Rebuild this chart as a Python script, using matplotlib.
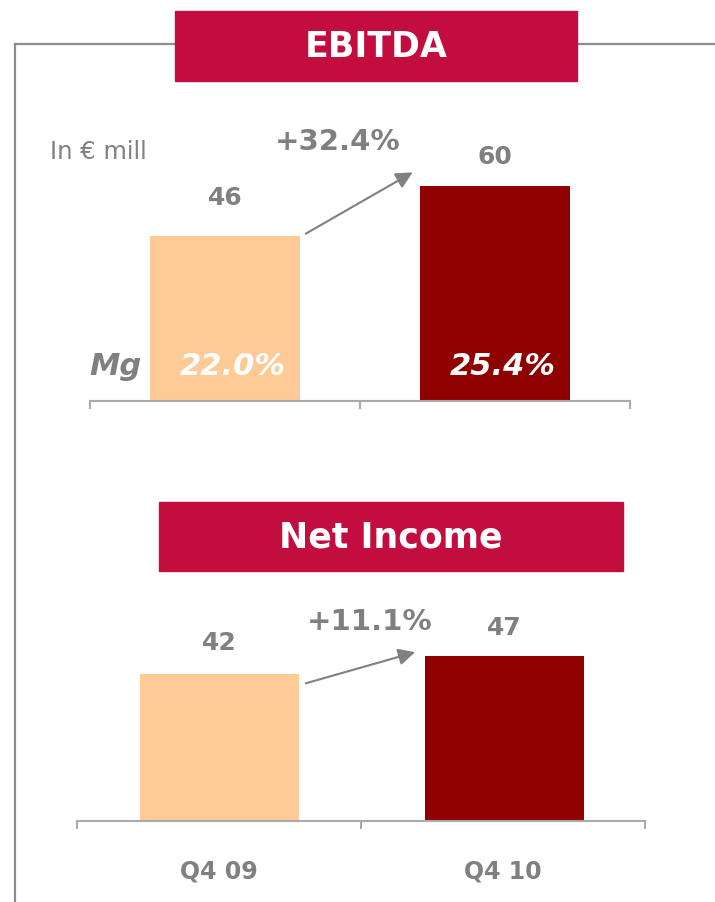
import matplotlib
matplotlib.use("Agg")
import matplotlib.pyplot as plt
from matplotlib.patches import Rectangle
from matplotlib.lines import Line2D

plt.rcParams['font.family'] = ['DejaVu Sans']

# data
periods = ['Q4 09', 'Q4 10']
ebitda = [46, 60]
ebitda_margin = ['22.0%', '25.4%']
ebitda_growth = '+32.4%'
net_income = [42, 47]
ni_growth = '+11.1%'

bar_colors = ['#FECB96', '#8F0000']
crimson = '#C20D3E'
gray = '#808080'
line_gray = '#8C8C8C'

W, H = 715, 903
fig = plt.figure(figsize=(W / 100, H / 100), dpi=100)


def px_box(x0, y0, x1, y1):
    # pixel box (top-left origin) -> figure fraction rect
    return [x0 / W, 1 - y1 / H, (x1 - x0) / W, (y1 - y0) / H]


# frame lines
fig.add_artist(Line2D([15 / W, 175 / W], [1 - 45 / H] * 2, color=line_gray, lw=1.6))
fig.add_artist(Line2D([577 / W, 1], [1 - 45 / H] * 2, color=line_gray, lw=1.6))
fig.add_artist(Line2D([15 / W] * 2, [1 - 45 / H, 0], color=line_gray, lw=1.6))

# title boxes
for (x0, y0, x1, y1), title in [((175, 12, 577, 82), 'EBITDA'),
                                ((159, 503, 623, 572), 'Net Income')]:
    fig.add_artist(Rectangle((x0 / W, 1 - y1 / H), (x1 - x0) / W, (y1 - y0) / H,
                             transform=fig.transFigure, color=crimson, zorder=3))
    fig.text((x0 + x1) / 2 / W, 1 - (y0 + y1) / 2 / H, title, color='white',
             fontsize=25, fontweight='bold', ha='center', va='center', zorder=4)

fig.text(50 / W, 1 - 152 / H, 'In € mill', color=gray, fontsize=17.5,
         ha='left', va='center')


def setup(ax):
    ax.set_xlim(0, 2)
    ax.set_ylim(0, 70)
    for s in ['top', 'right', 'left']:
        ax.spines[s].set_visible(False)
    ax.spines['bottom'].set_color('#AAAAAA')
    ax.spines['bottom'].set_linewidth(1.5)
    ax.set_yticks([])
    ax.set_xticks([0, 1, 2])
    ax.set_xticklabels([])
    ax.tick_params(axis='x', which='major', direction='out', length=6,
                   width=1.5, color='#AAAAAA')
    ax.patch.set_alpha(0)


# EBITDA chart: baseline at y=402 px, 60 -> 215 px
ax1 = fig.add_axes(px_box(90, 402 - 70 * 215 / 60, 630, 402))
setup(ax1)
ax1.bar([0.5, 1.5], ebitda, width=0.556, color=bar_colors)
for x, v, off in zip([0.5, 1.5], ebitda, [11, 8.5]):
    ax1.text(x, v + off, str(v), color=gray, fontsize=18, fontweight='bold',
             ha='center', va='center')
ax1.text(0.093, 9.8, 'Mg', color=gray, fontsize=22, fontweight='bold',
         style='italic', ha='center', va='center')
for x, m in zip([0.53, 1.53], ebitda_margin):
    ax1.text(x, 9.8, m, color='white', fontsize=22, fontweight='bold',
             style='italic', ha='center', va='center')
ax1.annotate('', xy=(1.204, 64.2), xytext=(0.79, 46.3),
             arrowprops=dict(arrowstyle='-|>', color=gray, lw=1.5,
                             mutation_scale=25), annotation_clip=False)
ax1.text(0.919, 72.5, ebitda_growth, color=gray, fontsize=21,
         fontweight='bold', ha='center', va='center', clip_on=False)

# Net income chart: baseline at y=822 px, 47 -> 165 px
ax2 = fig.add_axes(px_box(77, 822 - 70 * 165 / 47, 645, 822))
setup(ax2)
ax2.bar([0.502, 1.504], net_income, width=0.56, color=bar_colors)
for x, v, off in zip([0.502, 1.504], net_income, [9.1, 8.3]):
    ax2.text(x, v + off, str(v), color=gray, fontsize=18, fontweight='bold',
             ha='center', va='center')
ax2.annotate('', xy=(1.2, 48.3), xytext=(0.796, 39),
             arrowprops=dict(arrowstyle='-|>', color=gray, lw=1.5,
                             mutation_scale=25), annotation_clip=False)
ax2.text(1.03, 57, ni_growth, color=gray, fontsize=21,
         fontweight='bold', ha='center', va='center', clip_on=False)
ax2.set_xticks([0.5, 1.5], minor=True)
ax2.set_xticklabels(periods, minor=True, color=gray, fontsize=17,
                    fontweight='bold')
ax2.tick_params(axis='x', which='minor', length=0, pad=27)

fig.savefig('out.png', dpi=100)
